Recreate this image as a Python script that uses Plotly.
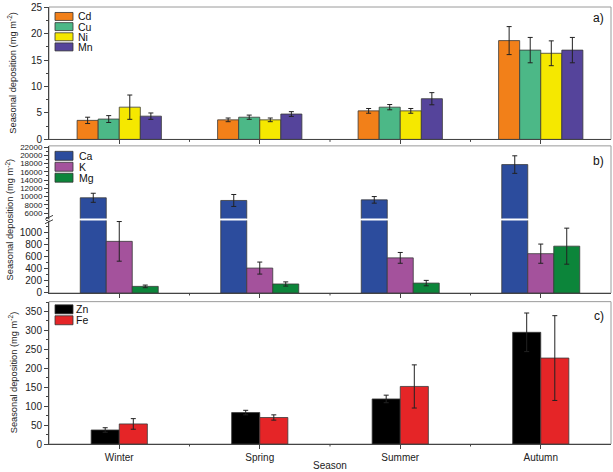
import plotly.graph_objects as go

# ---------------- data ----------------
seasons = ["Winter", "Spring", "Summer", "Autumn"]

# panel a) (mg m-2)
cd = [3.6, 3.7, 5.4, 18.7]
cd_err = [0.6, 0.35, 0.45, 2.65]
cu = [3.85, 4.2, 6.1, 16.9]
cu_err = [0.65, 0.4, 0.5, 2.4]
ni = [6.1, 3.7, 5.4, 16.3]
ni_err = [2.3, 0.35, 0.45, 2.35]
mn = [4.4, 4.8, 7.7, 16.9]
mn_err = [0.6, 0.45, 1.15, 2.4]

# panel b)
ca = [9700, 9050, 9200, 17750]
ca_err = [1100, 1450, 800, 2130]
k = [860, 415, 585, 655]
k_err = [330, 100, 90, 160]
mg = [110, 150, 165, 780]
mg_err = [22, 35, 45, 300]

# panel c)
zn = [37, 83, 119, 295]
zn_err = [6, 6, 10, 51]
fe = [53, 70, 152, 227]
fe_err = [14, 7, 57, 112]

# tick labels
ticks_a = [0, 5, 10, 15, 20, 25]
ticks_b_upper = [6000, 8000, 10000, 12000, 14000, 16000, 18000, 20000, 22000]
ticks_b_lower = [0, 200, 400, 600, 800, 1000]
ticks_c = [0, 50, 100, 150, 200, 250, 300, 350]

# ---------------- geometry helpers ----------------
W, H = 613, 472
L, R, T, B = 49, 2, 5, 28
PW, PH = W - L - R, H - T - B


def py(p):
    return (H - B - p) / PH


def pxx(p):
    return (p - L) / PW


FONT = "Liberation Sans, Arial, sans-serif"
EDGE = dict(color="#3a3a3a", width=0.8)


def err(a):
    return dict(type="data", array=a, color="#222222", thickness=1, width=2.5, visible=True)


fig = go.Figure()


def add_bar(y, e, color, name, xa, ya, width, offset, show_err=True):
    fig.add_trace(go.Bar(
        x=seasons, y=y, name=name, marker=dict(color=color, line=EDGE),
        width=width, offset=offset,
        error_y=err(e) if show_err else dict(visible=False),
        xaxis=xa, yaxis=ya, showlegend=False,
    ))


# panel a
wa = 0.15
cols_a = ["#F28019", "#4CB887", "#F5E800", "#55449B"]
for i, (v, e, c, n) in enumerate([(cd, cd_err, cols_a[0], "Cd"), (cu, cu_err, cols_a[1], "Cu"),
                                   (ni, ni_err, cols_a[2], "Ni"), (mn, mn_err, cols_a[3], "Mn")]):
    add_bar(v, e, c, n, "x", "y", wa, -2 * wa + i * wa)

# panel b (broken axis: y2 upper, y3 lower)
wb = 0.185
cols_b = ["#2C4C9D", "#A4529C", "#0C853A"]
add_bar(ca, ca_err, cols_b[0], "Ca", "x2", "y2", wb, -1.5 * wb)
add_bar(ca, ca_err, cols_b[0], "Ca", "x3", "y3", wb, -1.5 * wb, show_err=False)
add_bar(k, k_err, cols_b[1], "K", "x3", "y3", wb, -0.5 * wb)
add_bar(mg, mg_err, cols_b[2], "Mg", "x3", "y3", wb, 0.5 * wb)

# panel c
wc = 0.2
cols_c = ["#000000", "#E52527"]
add_bar(zn, zn_err, cols_c[0], "Zn", "x4", "y4", wc, -wc)
add_bar(fe, fe_err, cols_c[1], "Fe", "x4", "y4", wc, 0)

# ---------------- axes ----------------
AX = "#444444"


def tf(size):
    return dict(family=FONT, size=size, color="#222222")


def xaxis(anchor, labels, show=True):
    return dict(
        domain=[0, 1], anchor=anchor, type="category", categoryarray=seasons,
        range=[-0.5, 3.5], showgrid=False, zeroline=False,
        showline=show, linecolor=AX, linewidth=1,
        ticks="outside" if show else "", ticklen=4, tickcolor=AX,
        showticklabels=labels, tickfont=tf(10), fixedrange=True,
    )


def yaxis(anchor, dom, rng, tickvals, minor_dtick, size=10, tick0=0):
    return dict(
        domain=dom, anchor=anchor, range=rng, showgrid=False, zeroline=False,
        showline=True, linecolor=AX, linewidth=1,
        ticks="outside", ticklen=4, tickcolor=AX, tickmode="array",
        tickvals=tickvals, ticktext=[str(v) for v in tickvals], tickfont=tf(size),
        ticklabeloverflow="allow",
        minor=dict(ticks="outside", ticklen=2, tickcolor=AX, dtick=minor_dtick, tick0=tick0,
                   showgrid=False),
        fixedrange=True,
    )


dom_a = [py(138), 1]
dom_bu = [py(217.5), py(144.5)]
dom_bl = [py(292.3), py(219.5)]
dom_c = [0, py(301)]

fig.update_layout(
    xaxis=xaxis("y", False),
    xaxis2=xaxis("y2", False, show=False),
    xaxis3=xaxis("y3", False),
    xaxis4=xaxis("y4", True),
    yaxis=yaxis("x", dom_a, [0, 25.06], ticks_a, 2.5),
    yaxis2=yaxis("x2", dom_bu, [4670, 22290], ticks_b_upper, 1000, size=8),
    yaxis3=yaxis("x3", dom_bl, [0, 1207], ticks_b_lower, 100),
    yaxis4=yaxis("x4", dom_c, [0, 376], ticks_c, 25),
    barmode="overlay",
    width=W, height=H,
    margin=dict(l=L, r=R, t=T, b=B),
    paper_bgcolor="white", plot_bgcolor="white",
    font=dict(family=FONT, size=10, color="#222222"),
    showlegend=False,
)

shapes = []
annotations = []

# panel frames (top/right in grey)
FRAME = "#9a9a9a"
for top, bot in [(5, 138), (144.5, 292.3), (301, 444)]:
    shapes.append(dict(type="rect", xref="paper", yref="paper", x0=0, x1=1,
                       y0=py(bot), y1=py(top), line=dict(color=FRAME, width=1), layer="below"))

# minor x ticks at category boundaries
for xa, ybot in [("x", 138), ("x3", 292.3), ("x4", 444)]:
    for b in [0.5, 1.5, 2.5]:
        shapes.append(dict(type="line", xref=xa, yref="paper", x0=b, x1=b,
                           y0=py(ybot), y1=py(ybot + 2.5), line=dict(color=AX, width=1)))

# axis break mark
for yc in [216.3, 220.7]:
    shapes.append(dict(type="line", xref="paper", yref="paper",
                       x0=pxx(45), x1=pxx(53), y0=py(yc + 2), y1=py(yc - 2),
                       line=dict(color=AX, width=1)))


# custom legends
def legend(items, x0, x1, centers, h, tx):
    for (name, color), yc in zip(items, centers):
        shapes.append(dict(type="rect", xref="paper", yref="paper",
                           x0=pxx(x0), x1=pxx(x1), y0=py(yc + h / 2), y1=py(yc - h / 2),
                           fillcolor=color, line=dict(color="#333333", width=0.8)))
        annotations.append(dict(text=name, xref="paper", yref="paper", x=pxx(tx), y=py(yc),
                                xanchor="left", yanchor="middle", showarrow=False,
                                font=dict(family=FONT, size=10.5, color="#111111")))


legend(list(zip(["Cd", "Cu", "Ni", "Mn"], cols_a)), 55, 73, [14.5, 24.7, 34.9, 45.1], 8, 76)
legend(list(zip(["Ca", "K", "Mg"], cols_b)), 55, 73, [154.5, 165.5, 176.5], 9, 77)
legend(list(zip(["Zn", "Fe"], cols_c)), 55, 73, [308.7, 319.7], 9, 74)

# panel labels
for lab, yy in [("a)", 16), ("b)", 160), ("c)", 315)]:
    annotations.append(dict(text=lab, xref="paper", yref="paper", x=pxx(606), y=py(yy),
                            xanchor="right", yanchor="middle", showarrow=False,
                            font=dict(family=FONT, size=12, color="#111111")))

# y titles
ytitle = "Seasonal deposition (mg m<sup>-2</sup>)"
for yy, xx in [(71.5, 12.5), (218.4, 10), (372.5, 12.5)]:
    annotations.append(dict(text=ytitle, xref="paper", yref="paper", x=pxx(xx), y=py(yy),
                            xanchor="center", yanchor="middle", textangle=-90, showarrow=False,
                            font=dict(family=FONT, size=9.3, color="#222222")))

# x title
annotations.append(dict(text="Season", xref="paper", yref="paper", x=0.5, y=py(466),
                        xanchor="center", yanchor="middle", showarrow=False,
                        font=dict(family=FONT, size=10, color="#222222")))

fig.update_layout(shapes=shapes, annotations=annotations)
fig.write_html("out.html", config={"displayModeBar": False},
               post_script="document.body.style.margin='0';document.body.style.overflow='hidden';")
